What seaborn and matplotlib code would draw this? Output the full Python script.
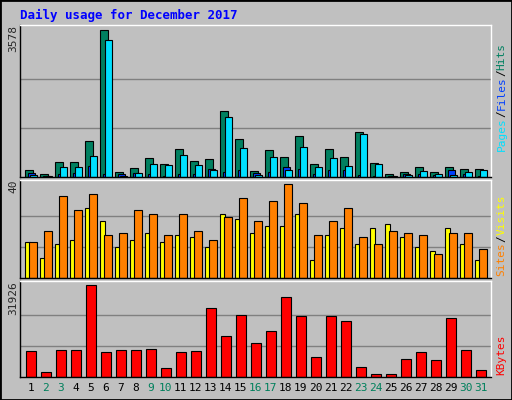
import matplotlib
matplotlib.use("Agg")
import matplotlib.pyplot as plt
import matplotlib.transforms as mt
import seaborn as sns
import numpy as np
import pandas as pd

days = list(range(1, 32))
weekend = [2, 3, 9, 10, 16, 17, 23, 24, 30, 31]
s = 3578 / 442
hits_px = [22,10,46,46,109,442,16,28,58,40,85,49,55,199,115,19,82,61,124,40,85,61,136,43,10,16,31,16,31,25,25]
files_px = [6,3,31,31,64,412,4,13,40,37,67,37,22,181,88,7,61,22,91,31,58,34,130,40,4,7,19,10,7,16,22]
pages_px = [12,3,10,13,34,10,10,13,10,3,10,10,25,16,22,13,16,31,25,10,22,22,5,3,3,10,10,6,22,10,3]
hits = [round(v * s) for v in hits_px]
files = [round(v * s) for v in files_px]
pages = [round(v * s) for v in pages_px]
v_s = 40 / 277
visits = [round(v * v_s, 1) for v in [105,139,244,202,250,127,133,202,190,127,190,139,112,181,238,169,229,277,223,127,169,208,121,100,139,133,127,70,133,133,85]]
sites = [round(v * v_s, 1) for v in [105,58,100,112,208,169,91,112,133,105,127,121,91,190,175,133,154,154,190,52,127,148,100,148,160,121,91,79,148,100,52]]
k_s = 31926 / 274
kbytes = [round(v * k_s) for v in [76,16,79,79,274,73,79,79,82,28,73,76,205,121,184,100,136,238,181,58,181,166,31,10,10,52,73,49,175,79,22]]

sns.set_style("white")
plt.rcParams['font.family'] = ['DejaVu Sans Mono', 'DejaVu Sans']
BG = "#C0C0C0"
fig = plt.figure(figsize=(5.12, 4.0), dpi=100, facecolor=BG)
W, H = 512, 400
def mk(y0, y1):
    ax = fig.add_axes([20 / W, 1 - y1 / H, 471 / W, (y1 - y0) / H])
    ax.set_facecolor(BG)
    for sp in ax.spines.values():
        sp.set_color("black"); sp.set_linewidth(1)
    ax.spines['top'].set_color("white"); ax.spines['right'].set_color("white")
    ax.set_xlim(0.67, 32.07)
    ax.set_xticks([])
    ax.set_yticks([])
    return ax

def left_label(ax, txt):
    tr = mt.blended_transform_factory(fig.transFigure, ax.transAxes)
    ax.text(13 / W, 1, txt, transform=tr, rotation=90, ha="center", va="top", fontsize=8)

x = np.array(days, dtype=float)
ek = dict(edgecolor="black", linewidth=0.8, align="edge")

ax1 = mk(25, 177)
ax1.set_ylim(0, 3691)
for g in (3578 / 3, 3578 * 2 / 3):
    ax1.axhline(g, color="#808080", lw=1, zorder=0)
ax1.bar(x, hits, width=0.53, color="#008060", **ek)
ax1.bar(x + 0.2, pages, width=0.5, color="#0040FF", **ek)
ax1.bar(x + 0.33, files, width=0.5, color="#00E0FF", **ek)
left_label(ax1, "3578")

ax2 = mk(180, 278)
ax2.set_ylim(0, 41.9)
for g in (40 / 3, 80 / 3):
    ax2.axhline(g, color="#808080", lw=1, zorder=0)
ax2.bar(x, sites, width=0.33, color="#FFFF00", **ek)
ax2.bar(x + 0.3, visits, width=0.5, color="#FF8000", **ek)
left_label(ax2, "40")

ax3 = mk(281, 377)
df = pd.DataFrame({"day": x + 0.38, "kbytes": kbytes})
for g in (31926 / 3, 31926 * 2 / 3):
    ax3.axhline(g, color="#808080", lw=1, zorder=0)
sns.barplot(data=df, x="day", y="kbytes", native_scale=True, width=0.67, color="#FF0000",
            saturation=1, edgecolor="black", linewidth=0.8, ax=ax3)
ax3.set_xlim(0.67, 32.07)
ax3.set_ylim(0, 33207)
ax3.set_xlabel(""); ax3.set_ylabel("")
ax3.set_xticks([]); ax3.set_yticks([])
left_label(ax3, "31926")
for d in days:
    ax3.text(d + 0.4, -0.06, str(d), transform=ax3.get_xaxis_transform(), ha="center", va="top",
             fontsize=8, color="#00805C" if d in weekend else "black")

fig.text(20 / W, 1 - 15 / H, "Daily usage for December 2017", color="#0000FF", fontsize=9,
         fontweight="bold", va="center", ha="left")

def right_stack(ax, parts, y):
    chh = 6.8 / (ax.get_position().height * H)
    for p, c in parts:
        ax.text(1.012, y, p, transform=ax.transAxes, rotation=90, ha="left", va="bottom",
                fontsize=8, color=c)
        y += len(p) * chh

right_stack(ax1, [("Pages", "#00E0FF"), ("/", "black"), ("Files", "#0040FF"), ("/", "black"), ("Hits", "#008060")], 0.17)
right_stack(ax2, [("Sites", "#FF8000"), ("/", "black"), ("Visits", "#FFFF00")], 0.02)
right_stack(ax3, [("KBytes", "#FF0000")], 0.02)

fig.patches.append(plt.Rectangle((0, 0), 1, 1, transform=fig.transFigure, fill=False,
                                 edgecolor="black", linewidth=2))
fig.savefig("out.png", dpi=100, facecolor=BG)
